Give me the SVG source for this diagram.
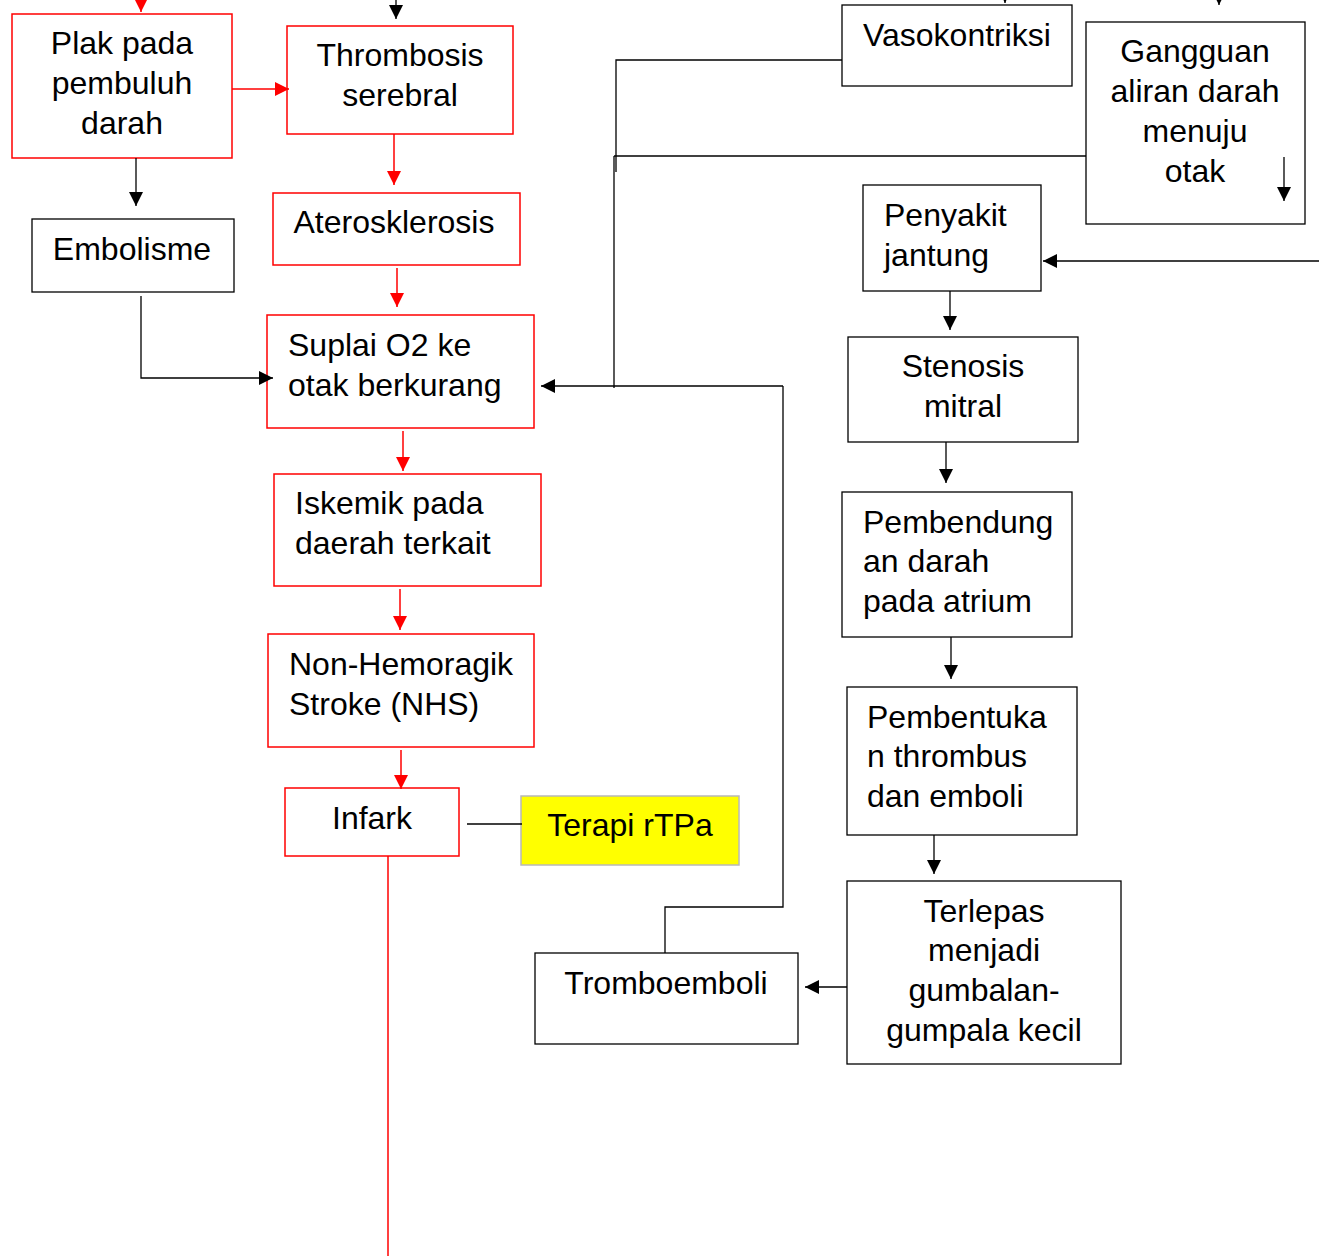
<svg xmlns="http://www.w3.org/2000/svg" width="1319" height="1256" viewBox="0 0 1319 1256">
<style>
.bx{fill:#fff;stroke:#000;stroke-width:1.3}
.rb{fill:#fff;stroke:#ff0000;stroke-width:1.5}
.yb{fill:#ffff00;stroke:#b8b8b8;stroke-width:1.5}
.t{font-family:"Liberation Sans",Arial,sans-serif;font-size:32px;fill:#000}
.c{text-anchor:middle}
.k{fill:none;stroke:#000;stroke-width:1.3}
.r{fill:none;stroke:#ff0000;stroke-width:1.5}
.ka{marker-end:url(#ab)}
.ra{marker-end:url(#ar)}
</style>
<defs>
<marker id="ab" markerUnits="userSpaceOnUse" markerWidth="16" markerHeight="16" refX="14" refY="7" orient="auto"><path d="M0,0 L14,7 L0,14 z" fill="#000"/></marker>
<marker id="ar" markerUnits="userSpaceOnUse" markerWidth="16" markerHeight="16" refX="14" refY="7" orient="auto"><path d="M0,0 L14,7 L0,14 z" fill="#ff0000"/></marker>
</defs>
<rect width="1319" height="1256" fill="#fff"/>
<g id="plak"><rect class="rb" x="12" y="14" width="220" height="144"/><text class="t c" x="122" y="54">Plak pada</text><text class="t c" x="122" y="94">pembuluh</text><text class="t c" x="122" y="134">darah</text></g>
<g id="thrombosis"><rect class="rb" x="287" y="26" width="226" height="108"/><text class="t c" x="400" y="66">Thrombosis</text><text class="t c" x="400" y="106">serebral</text></g>
<g id="aterosklerosis"><rect class="rb" x="273" y="193" width="247" height="72"/><text class="t c" x="394" y="233">Aterosklerosis</text></g>
<g id="embolisme"><rect class="bx" x="32" y="219" width="202" height="73"/><text class="t c" x="132" y="260">Embolisme</text></g>
<g id="suplai"><rect class="rb" x="267" y="315" width="267" height="113"/><text class="t" x="288" y="356">Suplai O2 ke</text><text class="t" x="288" y="396">otak berkurang</text></g>
<g id="iskemik"><rect class="rb" x="274" y="474" width="267" height="112"/><text class="t" x="295" y="514">Iskemik pada</text><text class="t" x="295" y="554">daerah terkait</text></g>
<g id="nhs"><rect class="rb" x="268" y="634" width="266" height="113"/><text class="t" x="289" y="675">Non-Hemoragik</text><text class="t" x="289" y="715">Stroke (NHS)</text></g>
<g id="infark"><rect class="rb" x="285" y="788" width="174" height="68"/><text class="t c" x="372" y="829">Infark</text></g>
<g id="terapi"><rect class="yb" x="521" y="796" width="218" height="69"/><text class="t c" x="630" y="836">Terapi rTPa</text></g>
<g id="vasokontriksi"><rect class="bx" x="842" y="5" width="230" height="81"/><text class="t c" x="957" y="46">Vasokontriksi</text></g>
<g id="gangguan"><rect class="bx" x="1086" y="22" width="219" height="202"/><text class="t c" x="1195" y="62">Gangguan</text><text class="t c" x="1195" y="102">aliran darah</text><text class="t c" x="1195" y="142">menuju</text><text class="t c" x="1195" y="182">otak</text></g>
<g id="penyakit"><rect class="bx" x="863" y="185" width="178" height="106"/><text class="t" x="884" y="226">Penyakit</text><text class="t" x="884" y="266">jantung</text></g>
<g id="stenosis"><rect class="bx" x="848" y="337" width="230" height="105"/><text class="t c" x="963" y="377">Stenosis</text><text class="t c" x="963" y="417">mitral</text></g>
<g id="pembendungan"><rect class="bx" x="842" y="492" width="230" height="145"/><text class="t" x="863" y="533">Pembendung</text><text class="t" x="863" y="572">an darah</text><text class="t" x="863" y="612">pada atrium</text></g>
<g id="pembentukan"><rect class="bx" x="847" y="687" width="230" height="148"/><text class="t" x="867" y="728">Pembentuka</text><text class="t" x="867" y="767">n thrombus</text><text class="t" x="867" y="807">dan emboli</text></g>
<g id="terlepas"><rect class="bx" x="847" y="881" width="274" height="183"/><text class="t c" x="984" y="922">Terlepas</text><text class="t c" x="984" y="961">menjadi</text><text class="t c" x="984" y="1001">gumbalan-</text><text class="t c" x="984" y="1041">gumpala kecil</text></g>
<g id="tromboemboli"><rect class="bx" x="535" y="953" width="263" height="91"/><text class="t c" x="666" y="994">Tromboemboli</text></g>
<g id="connectors">
<line class="r ra" x1="141" y1="-20" x2="141" y2="12"/>
<line class="k ka" x1="396" y1="-10" x2="396" y2="19"/>
<line class="k ka" x1="1005" y1="-20" x2="1005" y2="3"/>
<line class="k ka" x1="1219" y1="-20" x2="1219" y2="5"/>
<line class="r ra" x1="232" y1="89" x2="289" y2="89"/>
<line class="r ra" x1="394" y1="134" x2="394" y2="185"/>
<line class="r ra" x1="397" y1="268" x2="397" y2="307"/>
<line class="k ka" x1="136" y1="158" x2="136" y2="206"/>
<polyline class="k ka" points="141,296 141,378 273,378"/>
<line class="r ra" x1="403" y1="431" x2="403" y2="471"/>
<line class="r ra" x1="400" y1="589" x2="400" y2="630"/>
<line class="r ra" x1="401" y1="750" x2="401" y2="789"/>
<line class="k" x1="467" y1="824" x2="522" y2="824"/>
<line class="r" x1="388" y1="856" x2="388" y2="1256"/>
<polyline class="k" points="842,60 616,60 616,172"/>
<line class="k" x1="1086" y1="156" x2="614" y2="156"/>
<line class="k" x1="614" y1="156" x2="614" y2="388"/>
<line class="k ka" x1="783" y1="386" x2="541" y2="386"/>
<polyline class="k" points="783,386 783,907 665,907 665,953"/>
<line class="k ka" x1="1284" y1="157" x2="1284" y2="201"/>
<line class="k ka" x1="1319" y1="261" x2="1043" y2="261"/>
<line class="k ka" x1="950" y1="291" x2="950" y2="330"/>
<line class="k ka" x1="946" y1="442" x2="946" y2="483"/>
<line class="k ka" x1="951" y1="637" x2="951" y2="679"/>
<line class="k ka" x1="934" y1="835" x2="934" y2="874"/>
<line class="k ka" x1="847" y1="987" x2="805" y2="987"/>
</g>
</svg>
